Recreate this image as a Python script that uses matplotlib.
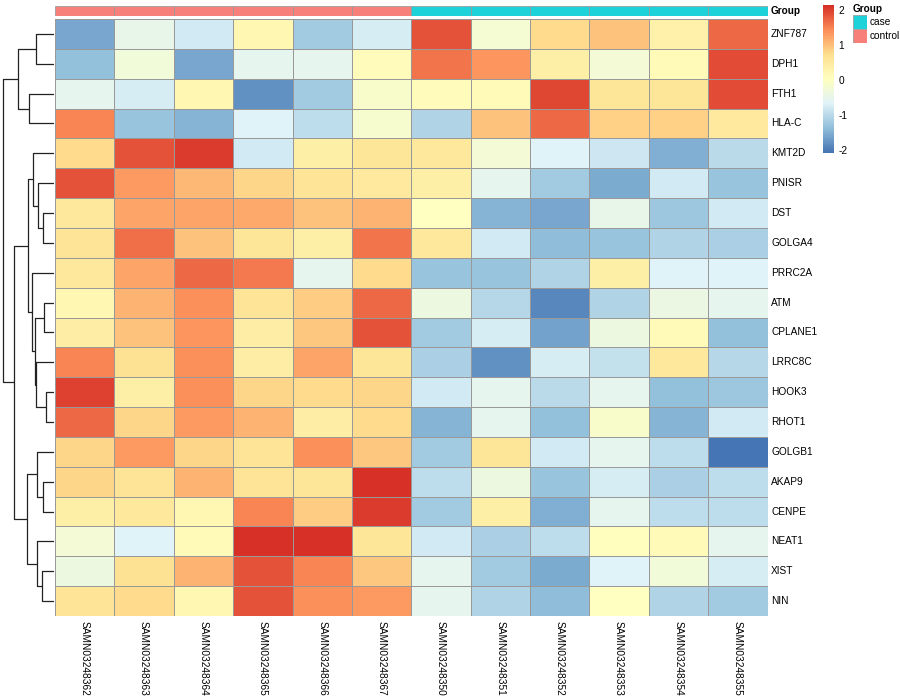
import matplotlib
matplotlib.use('Agg')
import matplotlib.pyplot as plt
import numpy as np
from matplotlib.colors import LinearSegmentedColormap
from matplotlib.patches import Rectangle

plt.rcParams['font.family'] = ['Liberation Sans', 'DejaVu Sans']

# genes (rows, top to bottom) and samples (columns)
genes = ['ZNF787', 'DPH1', 'FTH1', 'HLA-C', 'KMT2D', 'PNISR', 'DST', 'GOLGA4',
         'PRRC2A', 'ATM', 'CPLANE1', 'LRRC8C', 'HOOK3', 'RHOT1', 'GOLGB1',
         'AKAP9', 'CENPE', 'NEAT1', 'XIST', 'NIN']
samples = ['SAMN03248362', 'SAMN03248363', 'SAMN03248364', 'SAMN03248365',
           'SAMN03248366', 'SAMN03248367', 'SAMN03248350', 'SAMN03248351',
           'SAMN03248352', 'SAMN03248353', 'SAMN03248354', 'SAMN03248355']
groups = ['control'] * 6 + ['case'] * 6

# scaled expression
z_ZNF787 = [-1.6, -0.5, -0.8, 0.2, -1.2, -0.75, 1.85, -0.2, 0.75, 1.0, 0.35, 1.7]
z_DPH1 = [-1.35, -0.3, -1.6, -0.55, -0.55, 0.1, 1.6, 1.35, 0.4, -0.25, 0.15, 1.9]
z_FTH1 = [-0.55, -0.75, 0.2, -1.8, -1.2, -0.1, 0.1, 0.15, 1.95, 0.6, 0.6, 1.9]
z_HLAC = [1.5, -1.3, -1.45, -0.65, -0.95, -0.15, -1.1, 1.0, 1.7, 0.85, 0.85, 0.5]
z_KMT2D = [0.75, 1.85, 2.05, -0.8, 0.4, 0.6, 0.55, -0.25, -0.65, -0.85, -1.5, -1.0]
z_PNISR = [1.85, 1.3, 1.05, 0.8, 0.65, 0.5, 0.4, -0.55, -1.2, -1.55, -0.8, -1.3]
z_DST = [0.55, 1.25, 1.25, 1.2, 1.0, 1.1, 0.0, -1.45, -1.6, -0.5, -1.25, -0.8]
z_GOLGA4 = [0.65, 1.65, 1.0, 0.6, 0.4, 1.6, 0.55, -0.8, -1.4, -1.3, -1.1, -1.15]
z_PRRC2A = [0.55, 1.25, 1.7, 1.55, -0.55, 0.75, -1.3, -1.3, -1.1, 0.4, -0.65, -0.65]
z_ATM = [0.2, 1.1, 1.4, 0.65, 0.9, 1.7, -0.35, -1.05, -1.9, -1.1, -0.4, -0.55]
z_CPLANE1 = [0.45, 1.0, 1.35, 0.45, 0.95, 1.85, -1.2, -0.75, -1.65, -0.35, 0.15, -1.35]
z_LRRC8C = [1.5, 0.7, 1.4, 0.45, 1.25, 0.6, -1.15, -1.8, -0.75, -0.9, 0.55, -1.05]
z_HOOK3 = [2.0, 0.4, 1.4, 0.8, 0.75, 0.8, -0.8, -0.55, -1.0, -0.55, -1.35, -1.25]
z_RHOT1 = [1.7, 0.8, 1.3, 1.1, 0.45, 0.75, -1.45, -0.55, -1.35, -0.1, -1.45, -0.8]
z_GOLGB1 = [0.8, 1.3, 0.8, 0.65, 1.4, 0.95, -1.2, 0.6, -0.8, -0.55, -0.95, -2.08]
z_AKAP9 = [0.8, 0.65, 1.1, 0.65, 0.6, 2.14, -0.95, -0.35, -1.3, -0.75, -1.15, -0.95]
z_CENPE = [0.4, 0.55, 0.2, 1.5, 0.9, 2.05, -1.2, 0.4, -1.5, -0.55, -0.95, -0.95]
z_NEAT1 = [-0.25, -0.65, 0.15, 2.1, 2.1, 0.6, -0.8, -1.15, -0.95, 0.05, 0.15, -0.55]
z_XIST = [-0.35, 0.7, 1.1, 1.85, 1.5, 0.95, -0.55, -1.2, -1.55, -0.65, -0.3, -0.75]
z_NIN = [0.65, 0.75, 0.2, 1.85, 1.4, 1.3, -0.55, -1.1, -1.4, 0.0, -1.1, -1.2]

# row dendrogram: (left, right, height); leaves 0..19, merged nodes from 20 on
merges = [
    (0, 1, 1.86), (2, 3, 2.53), (20, 21, 3.66),
    (6, 7, 1.16), (5, 23, 1.60), (4, 24, 2.10),
    (9, 10, 1.00), (12, 13, 0.80), (11, 27, 1.83), (26, 28, 1.93),
    (8, 29, 2.26), (25, 30, 2.60),
    (15, 16, 1.16), (14, 32, 1.76), (18, 19, 1.26), (17, 34, 1.76),
    (33, 35, 2.76), (31, 36, 4.00), (22, 37, 5.16),
]

data = np.array([z_ZNF787, z_DPH1, z_FTH1, z_HLAC, z_KMT2D, z_PNISR, z_DST,
                 z_GOLGA4, z_PRRC2A, z_ATM, z_CPLANE1, z_LRRC8C, z_HOOK3,
                 z_RHOT1, z_GOLGB1, z_AKAP9, z_CENPE, z_NEAT1, z_XIST, z_NIN])

colors = ['#4575B4', '#91BFDB', '#E0F3F8', '#FFFFBF', '#FEE090', '#FC8D59', '#D73027']
cmap = LinearSegmentedColormap.from_list('rdylbu', colors, N=100)
vmin, vmax = data.min(), data.max()
group_col = {'control': '#F8807A', 'case': '#1DD3D9'}

W, H = 900, 700
fig = plt.figure(figsize=(9, 7), dpi=100)


def px_axes(x0, y0, x1, y1):
    # axes from pixel box (top-left origin)
    return fig.add_axes([x0 / W, 1 - y1 / H, (x1 - x0) / W, (y1 - y0) / H])


hx0, hx1, hy0, hy1 = 55, 767.5, 19, 616
nrow, ncol = data.shape

# heatmap
ax = px_axes(hx0, hy0, hx1, hy1)
ax.pcolormesh(np.arange(ncol + 1), np.arange(nrow + 1), data, cmap=cmap,
              vmin=vmin, vmax=vmax, edgecolors='#999999', linewidth=0.55)
ax.set_xlim(0, ncol)
ax.set_ylim(nrow, 0)
ax.axis('off')

# annotation bar
ax_a = px_axes(hx0, 6, hx1, 15.7)
for j, g in enumerate(groups):
    ax_a.add_patch(Rectangle((j, 0), 1, 1, facecolor=group_col[g],
                             edgecolor='#999999', linewidth=0.55))
ax_a.set_xlim(0, ncol)
ax_a.set_ylim(0, 1)
ax_a.axis('off')
fig.text(771 / W, 1 - 10.8 / H, 'Group', fontsize=7.2, fontweight='bold',
         ha='left', va='center')

# row labels
rh = (hy1 - hy0) / nrow
for i, g in enumerate(genes):
    fig.text(771 / W, 1 - (hy0 + rh * (i + 0.5)) / H, g, fontsize=7.3,
             ha='left', va='center')

# column labels
cw = (hx1 - hx0) / ncol
for j, s in enumerate(samples):
    fig.text((hx0 + cw * (j + 0.5)) / W, 1 - 621 / H, s, fontsize=7.3,
             rotation=270, ha='center', va='top')

# dendrogram
ax_d = px_axes(0, hy0, 54.3, hy1)
pos = {i: (i + 0.5, 0.0) for i in range(nrow)}
for k, (a, b, h) in enumerate(merges):
    ya, ha = pos[a]
    yb, hb = pos[b]
    ax_d.plot([ha, h, h, hb], [ya, ya, yb, yb], color='#222222', linewidth=0.9,
              solid_capstyle='butt')
    pos[nrow + k] = ((ya + yb) / 2, h)
ax_d.set_xlim(5.43, 0)
ax_d.set_ylim(nrow, 0)
ax_d.axis('off')

# colour legend
ax_c = px_axes(823, 5, 834, 153)
grad = np.linspace(vmin, vmax, 100).reshape(-1, 1)
ax_c.imshow(grad, cmap=cmap, vmin=vmin, vmax=vmax, aspect='auto',
            origin='lower', extent=[0, 1, vmin, vmax])
ax_c.set_xlim(0, 1)
ax_c.set_ylim(vmin, vmax)
for sp in ax_c.spines.values():
    sp.set_visible(False)
ax_c.set_xticks([])
ax_c.yaxis.tick_right()
ax_c.set_yticks([-2, -1, 0, 1, 2])
ax_c.set_yticklabels(['-2', '-1', '0', '1', '2'], fontsize=7.3)
ax_c.tick_params(axis='y', length=0, pad=3)

# group legend
fig.text(852.7 / W, 1 - 9.5 / H, 'Group', fontsize=7.2, fontweight='bold',
         ha='left', va='center')
for k, g in enumerate(['case', 'control']):
    y0 = 15 + k * 14.2
    ax_l = px_axes(852.7, y0, 866.7, y0 + 14.2)
    ax_l.add_patch(Rectangle((0, 0), 1, 1, facecolor=group_col[g],
                             edgecolor='#999999', linewidth=0.55))
    ax_l.set_xlim(0, 1)
    ax_l.set_ylim(0, 1)
    ax_l.axis('off')
    fig.text(869.5 / W, 1 - (y0 + 7.1) / H, g, fontsize=7.3, ha='left',
             va='center')

fig.savefig('out.png', dpi=100)
